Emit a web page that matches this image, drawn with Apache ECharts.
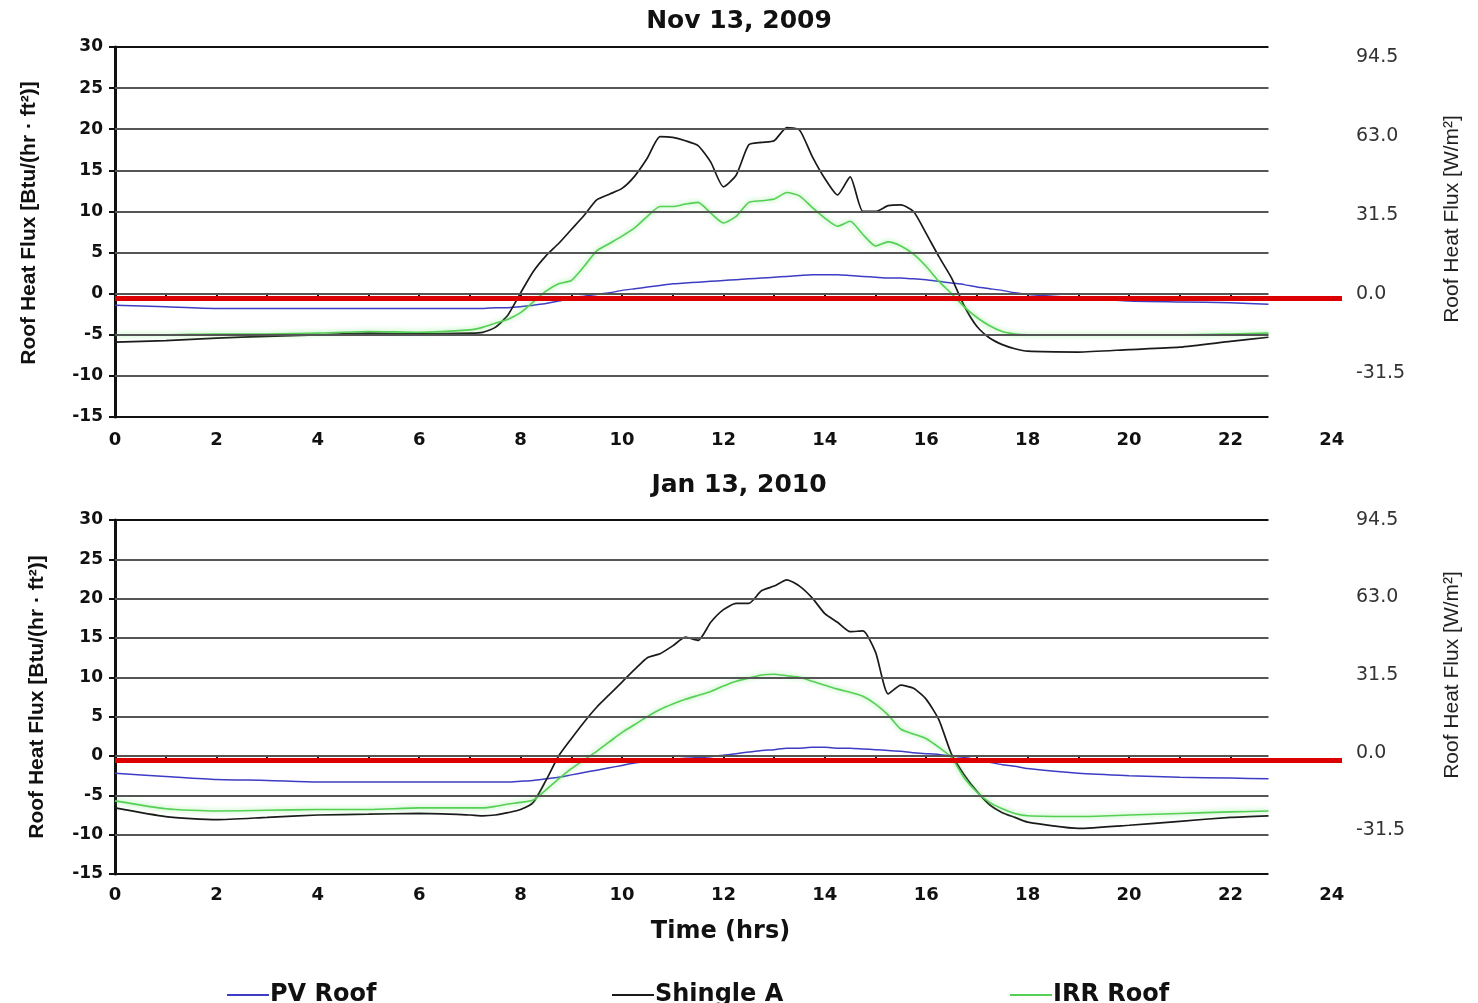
<!DOCTYPE html>
<html>
<head>
<meta charset="utf-8">
<title>Roof Heat Flux</title>
<script src="https://cdn.jsdelivr.net/npm/echarts@6/dist/echarts.min.js"></script>
<style>
  html, body { margin: 0; padding: 0; background: #fff; }
  #chart { width: 1478px; height: 1003px; }
</style>
</head>
<body>
<div id="chart"></div>
<script>
// time of day (hrs), same sampling for both days
var hours = [0, 1, 2, 3, 4, 5, 6, 7,
  7.25, 7.5, 7.75, 8, 8.25, 8.5, 8.75, 9, 9.25, 9.5, 9.75, 10,
  10.25, 10.5, 10.75, 11, 11.25, 11.5, 11.75, 12, 12.25, 12.5, 12.75, 13,
  13.25, 13.5, 13.75, 14, 14.25, 14.5, 14.75, 15, 15.25, 15.5, 15.75, 16,
  16.25, 16.5, 16.75, 17, 17.25, 17.5, 17.75, 18,
  19, 20, 21, 22, 22.75];

// Nov 13, 2009  (Btu/(hr·ft²))
var novPV = [-1.4, -1.6, -1.8, -1.8, -1.8, -1.8, -1.8, -1.8,
  -1.8, -1.7, -1.7, -1.6, -1.4, -1.2, -0.9, -0.5, -0.3, -0.1, 0.1, 0.4,
  0.6, 0.8, 1.0, 1.2, 1.3, 1.4, 1.5, 1.6, 1.7, 1.8, 1.9, 2.0,
  2.1, 2.2, 2.3, 2.3, 2.3, 2.2, 2.1, 2.0, 1.9, 1.9, 1.8, 1.7,
  1.5, 1.3, 1.1, 0.8, 0.6, 0.4, 0.1, -0.1,
  -0.5, -0.9, -1.0, -1.1, -1.3];
var novShingle = [-5.9, -5.7, -5.4, -5.2, -5.0, -4.8, -4.9, -4.8,
  -4.7, -4.1, -2.6, 0.1, 2.7, 4.6, 6.1, 7.8, 9.5, 11.4, 12.1, 12.8,
  14.3, 16.5, 19.1, 19.0, 18.6, 18.0, 16.0, 13.0, 14.4, 18.1, 18.4, 18.6,
  20.2, 19.9, 16.7, 14.0, 12.0, 14.2, 10.0, 10.0, 10.7, 10.8, 10.0, 7.3,
  4.5, 1.9, -1.5, -4.0, -5.4, -6.2, -6.7, -7.0,
  -7.1, -6.8, -6.5, -5.8, -5.3];
var novIRR = [-5.0, -5.0, -4.9, -4.9, -4.8, -4.6, -4.7, -4.4,
  -4.1, -3.6, -3.1, -2.3, -1.0, 0.3, 1.2, 1.6, 3.3, 5.2, 6.1, 7.0,
  8.0, 9.4, 10.6, 10.6, 10.9, 11.1, 9.8, 8.6, 9.4, 11.1, 11.3, 11.5,
  12.3, 11.9, 10.5, 9.2, 8.2, 8.8, 7.2, 5.8, 6.3, 5.8, 4.8, 3.3,
  1.5, 0.0, -1.6, -2.9, -3.9, -4.6, -4.9, -5.0,
  -5.0, -5.0, -5.0, -4.9, -4.8];

// Jan 13, 2010
var janPV = [-2.2, -2.6, -3.0, -3.1, -3.3, -3.3, -3.3, -3.3,
  -3.3, -3.3, -3.3, -3.2, -3.1, -2.9, -2.7, -2.4, -2.1, -1.8, -1.5, -1.2,
  -0.9, -0.7, -0.5, -0.4, -0.3, -0.2, -0.1, 0.1, 0.3, 0.5, 0.7, 0.8,
  1.0, 1.0, 1.1, 1.1, 1.0, 1.0, 0.9, 0.8, 0.7, 0.6, 0.4, 0.3,
  0.2, 0.0, -0.2, -0.5, -0.8, -1.1, -1.3, -1.6,
  -2.2, -2.5, -2.7, -2.8, -2.9];
var janShingle = [-6.6, -7.7, -8.1, -7.8, -7.5, -7.4, -7.3, -7.5,
  -7.6, -7.5, -7.2, -6.8, -5.9, -3.1, 0.0, 2.2, 4.3, 6.2, 7.8, 9.4,
  11.0, 12.5, 13.0, 14.0, 15.1, 14.7, 17.0, 18.6, 19.4, 19.4, 21.0, 21.6,
  22.4, 21.6, 20.1, 18.1, 17.0, 15.8, 15.9, 13.2, 7.9, 9.0, 8.6, 7.2,
  4.6, 0.2, -2.4, -4.5, -6.2, -7.2, -7.8, -8.4,
  -9.2, -8.8, -8.3, -7.8, -7.6];
var janIRR = [-5.7, -6.7, -7.0, -6.9, -6.8, -6.8, -6.6, -6.6,
  -6.6, -6.4, -6.1, -5.9, -5.6, -4.3, -2.9, -1.6, -0.5, 0.6, 1.8, 3.0,
  4.0, 5.0, 5.9, 6.6, 7.2, 7.7, 8.2, 8.9, 9.5, 9.9, 10.3, 10.4,
  10.2, 10.0, 9.5, 9.0, 8.5, 8.1, 7.6, 6.6, 5.2, 3.4, 2.8, 2.2,
  1.1, -0.2, -2.8, -4.6, -5.9, -6.7, -7.3, -7.6,
  -7.7, -7.5, -7.3, -7.1, -7.0];

var leftTicks = [-15, -10, -5, 0, 5, 10, 15, 20, 25, 30];
var rightTicks = [-31.5, 0, 31.5, 63, 94.5];   // W/m²
var hourLabels = [0, 2, 4, 6, 8, 10, 12, 14, 16, 18, 20, 22, 24];
var hourTicks = [0, 1, 2, 3, 4, 5, 6, 7, 8, 9, 10, 11, 12, 13, 14, 15, 16, 17, 18, 19, 20, 21, 22];
var legendNames = ['PV Roof', 'Shingle A', 'IRR Roof'];
var redLevel = -0.5;
var lastHour = 22.75;

var bold = "'DejaVu Sans', sans-serif";
var narrow = "'Liberation Sans Narrow', 'Liberation Sans', sans-serif";
var plain = "'Liberation Sans', sans-serif";

function pairs(values) {
  return hours.map(function (h, i) { return [h, values[i]]; });
}

function hourAxis(gi, withName) {
  var ax = {
    type: 'value', gridIndex: gi, min: 0, max: 24.2,
    axisLine: { show: false },
    axisTick: { show: true, customValues: hourTicks, length: 5, lineStyle: { color: '#111', width: 2 } },
    axisLabel: { customValues: hourLabels, margin: gi === 0 ? 14 : 12, fontFamily: bold, fontWeight: 'bold', fontSize: 18, color: '#111' },
    splitLine: { show: false }
  };
  if (withName) {
    ax.name = 'Time (hrs)';
    ax.nameLocation = 'middle';
    ax.nameGap = 46;
    ax.nameTextStyle = { fontFamily: bold, fontWeight: 'bold', fontSize: 24, color: '#111', padding: [0, 16, 0, 0] };
  }
  return ax;
}

function leftAxis(gi, gap, shift) {
  return {
    type: 'value', gridIndex: gi, position: 'left', min: -15, max: 30, interval: 5,
    name: 'Roof Heat Flux [Btu/(hr · ft²)]', nameLocation: 'middle', nameGap: gap, nameRotate: 90,
    nameTextStyle: { fontFamily: narrow, fontWeight: 'bold', fontSize: 21, color: '#111', padding: [0, 0, 0, shift] },
    axisLine: { show: true, lineStyle: { color: '#111', width: 3 } },
    axisTick: { show: true, length: 6, lineStyle: { color: '#111', width: 2 } },
    axisLabel: { margin: 12, fontFamily: bold, fontWeight: 'bold', fontSize: 17, color: '#111' },
    splitLine: { show: false }
  };
}

function rightAxis(gi, lo, hi, shift) {
  return {
    type: 'value', gridIndex: gi, position: 'right', min: lo, max: hi,
    name: 'Roof Heat Flux [W/m²]', nameLocation: 'middle', nameGap: 100, nameRotate: 90,
    nameTextStyle: { fontFamily: plain, fontSize: 21, color: '#222', padding: [0, 0, 0, shift] },
    axisLine: { show: false },
    axisTick: { show: false },
    axisLabel: { customValues: rightTicks, margin: 14, fontFamily: "'DejaVu Sans', sans-serif", fontSize: 19, color: '#333',
      formatter: function (v) { return v.toFixed(1); } },
    splitLine: { show: false }
  };
}

// horizontal rules stop at the last sample, like the original plot area
function rules(gi) {
  return {
    type: 'line', xAxisIndex: gi, yAxisIndex: gi * 2, data: [], silent: true, z: 1,
    markLine: {
      symbol: 'none', silent: true, animation: false, label: { show: false },
      data: leftTicks.map(function (v) {
        return [{ coord: [0, v], lineStyle: { type: 'solid', color: v === leftTicks[0] || v === 30 ? '#111' : '#555', width: 2 } },
                { coord: [lastHour, v] }];
      })
    }
  };
}

function redLine(gi) {
  return {
    type: 'line', xAxisIndex: gi, yAxisIndex: gi * 2, data: [], silent: true, z: 6,
    markLine: {
      symbol: 'none', silent: true, animation: false, label: { show: false },
      data: [[{ coord: [0, redLevel], lineStyle: { type: 'solid', color: '#dd0000', width: 5 } }, { coord: [24.2, redLevel] }]]
    }
  };
}

function flux(name, values, gi, color, width, glow) {
  return {
    name: name, type: 'line', xAxisIndex: gi, yAxisIndex: gi * 2, data: pairs(values),
    showSymbol: false, smooth: 0.2, color: color, z: 3,
    lineStyle: { color: color, width: width, shadowBlur: glow ? 5 : 0, shadowColor: glow ? 'rgba(110,230,110,0.8)' : 'rgba(0,0,0,0)' }
  };
}

var blue = '#3c3cc4', black = '#1a1a1a', green = '#55d055';
var legendLeft = [222, 607, 1005];

var chart = echarts.init(document.getElementById('chart'));
chart.setOption({
  animation: false,
  backgroundColor: '#fff',
  title: [
    { text: 'Nov 13, 2009', left: 'center', top: 4, textStyle: { fontFamily: bold, fontWeight: 'bold', fontSize: 25, color: '#111' } },
    { text: 'Jan 13, 2010', left: 'center', top: 468, textStyle: { fontFamily: bold, fontWeight: 'bold', fontSize: 25, color: '#111' } }
  ],
  legend: legendNames.map(function (n, i) {
    return {
      data: [n], left: legendLeft[i], top: 978, icon: 'rect', itemWidth: 42, itemHeight: 2, selectedMode: false,
      textStyle: { fontFamily: bold, fontWeight: 'bold', fontSize: 24, color: '#111', padding: [0, 0, 0, -4] }
    };
  }),
  grid: [
    { left: 115, top: 47, width: 1227, height: 370 },
    { left: 115, top: 520, width: 1227, height: 354 }
  ],
  xAxis: [hourAxis(0, false), hourAxis(1, true)],
  yAxis: [leftAxis(0, 75, 18), rightAxis(0, -49, 98.5, 26), leftAxis(1, 67, 0), rightAxis(1, -49.3, 94.5, 44)],
  series: [
    rules(0), rules(1),
    flux('PV Roof', novPV, 0, blue, 1.5, false),
    flux('Shingle A', novShingle, 0, black, 1.7, false),
    flux('IRR Roof', novIRR, 0, green, 1.6, true),
    flux('PV Roof', janPV, 1, blue, 1.5, false),
    flux('Shingle A', janShingle, 1, black, 1.7, false),
    flux('IRR Roof', janIRR, 1, green, 1.6, true),
    redLine(0), redLine(1)
  ]
});
</script>
</body>
</html>
